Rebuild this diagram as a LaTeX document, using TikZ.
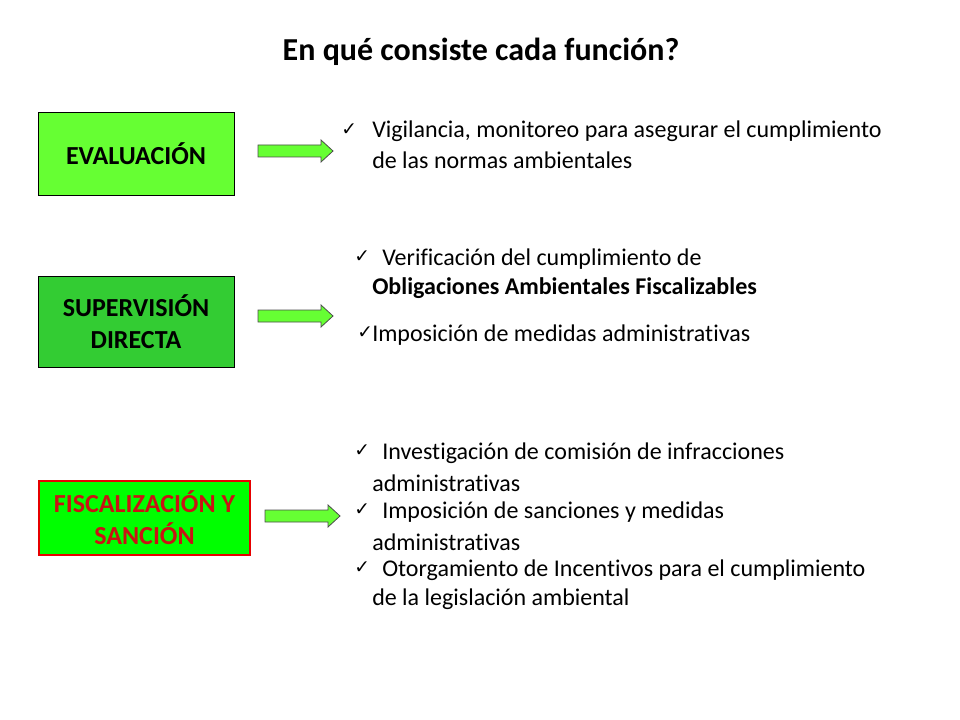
\documentclass[tikz,border=0pt]{standalone}
\usepackage{fontspec}
\setmainfont[Ligatures=NoCommon]{Carlito}
\newfontfamily\symf{DejaVu Sans}
\begin{document}
\begin{tikzpicture}[x=0.75pt,y=-0.75pt,
  frame/.style={draw=black,line width=0.6pt},
  box/.style={font=\fontsize{19.5}{24}\selectfont\bfseries,align=center,inner sep=0pt},
  garrow/.style={draw=black!70,fill={rgb,255:red,102;green,255;blue,51},line width=0.6pt,line join=miter},
  txt/.style={anchor=west,font=\fontsize{18}{21}\selectfont,inner sep=0pt},
  chk/.style={anchor=west,font=\symf\fontsize{14}{16}\selectfont,inner sep=0pt}]
\useasboundingbox (0,0) rectangle (960,720);
\node[font=\fontsize{24}{28}\selectfont\bfseries] (title) at (481,52) {En qué consiste cada función?};
\path[frame,fill={rgb,255:red,102;green,255;blue,51}] (38,112) rectangle (234,195);
\node[box] (b1) at (136,153.5) {EVALUACIÓN};
\path[frame,fill={rgb,255:red,51;green,204;blue,51}] (38,276) rectangle (234,367);
\node[box] (b2) at (136,321.5) {SUPERVISIÓN\\DIRECTA};
\path[frame,draw={rgb,255:red,230;green,0;blue,0},line width=1.5pt,fill={rgb,255:red,0;green,255;blue,0}] (39,481) rectangle (250,555);
\node[box,text={rgb,255:red,200;green,20;blue,20}] (b3) at (144.5,518) {FISCALIZACIÓN Y\\SANCIÓN};
\foreach \nm/\xa/\xb/\yc in {a1/258/333/151, a2/258/333/316, a3/265/340/516}{
  \coordinate (\nm) at (\xa,\yc);
  \draw[garrow] (\xa,\yc-6) -- (\xb-12,\yc-6) -- (\xb-12,\yc-11) -- (\xb,\yc) -- (\xb-12,\yc+11) -- (\xb-12,\yc+6) -- (\xa,\yc+6) -- cycle;
}
\node[chk] (c1) at (341,130) {✓};
\node[txt] (t1) at (372,131) {Vigilancia, monitoreo para asegurar el cumplimiento};
\node[txt] (t1b) at (372,160) {de las normas ambientales};
\node[chk] (c2) at (354,257) {✓};
\node[txt] (t2) at (382,259) {Verificación del cumplimiento de};
\node[txt,font=\fontsize{18}{21}\selectfont\bfseries] (t2b) at (372,288) {Obligaciones Ambientales Fiscalizables};
\node[chk] (c3) at (357,333) {✓};
\node[txt] (t3) at (372,335) {Imposición de medidas administrativas};
\node[chk] (c4) at (354,451) {✓};
\node[txt] (t4) at (382,453) {Investigación de comisión de infracciones};
\node[txt] (t4b) at (372,483) {administrativas};
\node[chk] (c5) at (354,510) {✓};
\node[txt] (t5) at (382,512) {Imposición de sanciones y medidas};
\node[txt] (t5b) at (372,542) {administrativas};
\node[chk] (c6) at (354,568) {✓};
\node[txt] (t6) at (382,570) {Otorgamiento de Incentivos para el cumplimiento};
\node[txt] (t6b) at (372,599) {de la legislación ambiental};
\end{tikzpicture}
\end{document}
